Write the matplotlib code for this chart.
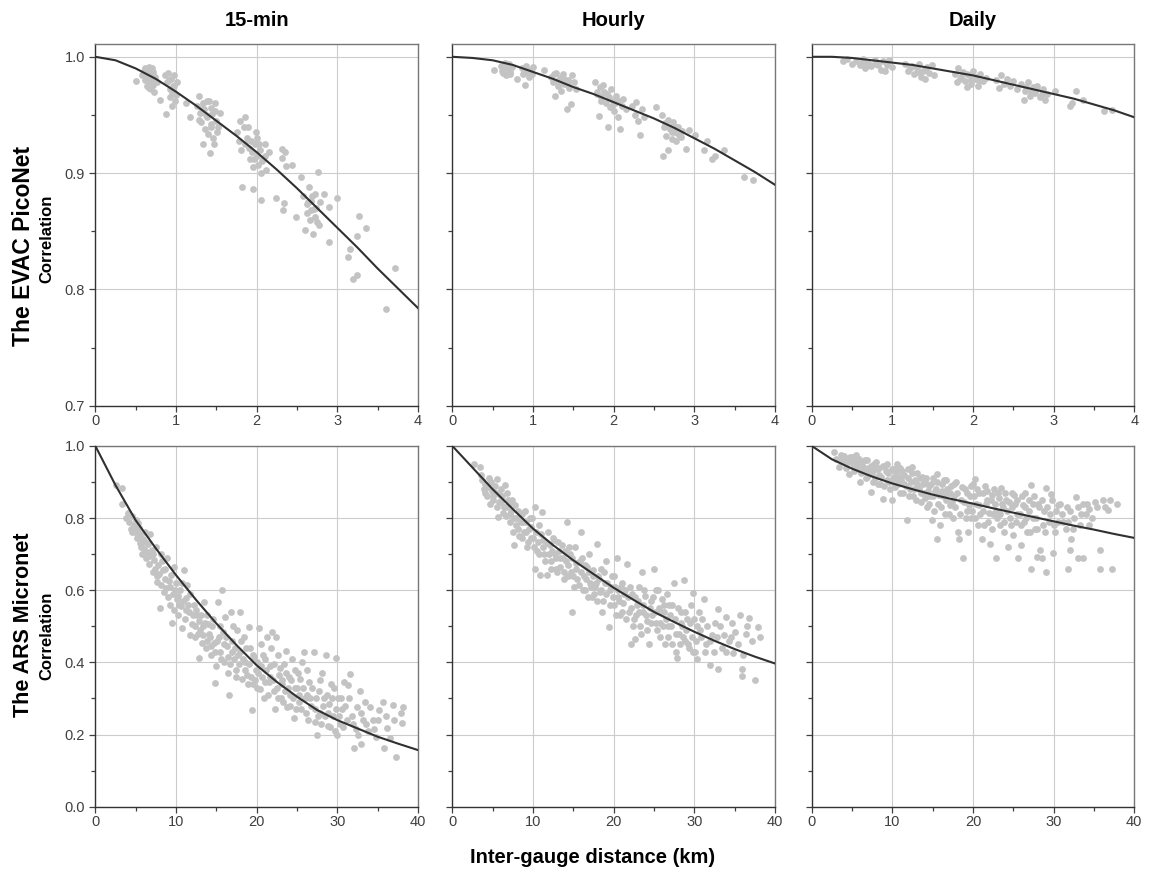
import numpy as np
import matplotlib
matplotlib.use('Agg')
import matplotlib.pyplot as plt
from matplotlib.ticker import MultipleLocator

plt.rcParams['font.family'] = ['Liberation Sans', 'DejaVu Sans']

col_titles = ['15-min', 'Hourly', 'Daily']
row_titles = ['The EVAC PicoNet', 'The ARS Micronet']

# ---- EVAC PicoNet (distance in km, correlation) ----
evac_15min = [
    (0.51, 0.979), (0.58, 0.984), (0.60, 0.988), (0.62, 0.990), (0.63, 0.982), (0.64, 0.975),
    (0.65, 0.986), (0.66, 0.991), (0.67, 0.979), (0.68, 0.984), (0.69, 0.972), (0.70, 0.981),
    (0.71, 0.987), (0.72, 0.976), (0.74, 0.983), (0.76, 0.978), (0.80, 0.963),
    (0.86, 0.984), (0.88, 0.951), (0.89, 0.978), (0.90, 0.986), (0.92, 0.972), (0.93, 0.965),
    (0.94, 0.981), (0.95, 0.958), (0.96, 0.975), (0.97, 0.969), (0.98, 0.984), (0.99, 0.962),
    (1.01, 0.978), (1.13, 0.960), (1.18, 0.948), (1.26, 0.958), (1.28, 0.966), (1.30, 0.952),
    (1.31, 0.944), (1.33, 0.960), (1.34, 0.925), (1.35, 0.955), (1.36, 0.938), (1.38, 0.962),
    (1.39, 0.948), (1.40, 0.934), (1.42, 0.917), (1.43, 0.956), (1.44, 0.942), (1.45, 0.951),
    (1.46, 0.930), (1.47, 0.925), (1.48, 0.960), (1.50, 0.945), (1.52, 0.940), (1.54, 0.952),
    (1.76, 0.935), (1.78, 0.928), (1.80, 0.945), (1.82, 0.888), (1.84, 0.940), (1.86, 0.948),
    (1.88, 0.930), (1.90, 0.922), (1.92, 0.912), (1.94, 0.918), (1.95, 0.886), (1.96, 0.905),
    (1.98, 0.925), (2.00, 0.915), (2.01, 0.930), (2.02, 0.907), (2.04, 0.920), (2.05, 0.877),
    (2.06, 0.900), (2.08, 0.912), (2.10, 0.925), (2.12, 0.903), (2.15, 0.918),
    (2.24, 0.879), (2.31, 0.921), (2.32, 0.913), (2.33, 0.868), (2.34, 0.874), (2.35, 0.918),
    (2.37, 0.906), (2.44, 0.907), (2.49, 0.862),
    (2.55, 0.897), (2.58, 0.880), (2.60, 0.851), (2.62, 0.873), (2.63, 0.866), (2.65, 0.888),
    (2.66, 0.860), (2.68, 0.876), (2.70, 0.848), (2.71, 0.869), (2.73, 0.882), (2.75, 0.858),
    (2.76, 0.901), (2.78, 0.875), (2.84, 0.882), (2.90, 0.871), (2.90, 0.841), (3.00, 0.879),
    (3.13, 0.828), (3.16, 0.835), (3.19, 0.809), (3.25, 0.812), (3.25, 0.846), (3.27, 0.863),
    (3.36, 0.853), (3.60, 0.783), (3.71, 0.818),
    (0.61, 0.980), (0.64, 0.988), (0.67, 0.973), (0.70, 0.990), (0.73, 0.970), (0.91, 0.980),
    (0.95, 0.970), (0.98, 0.975), (1.00, 0.967), (1.29, 0.946), (1.32, 0.955), (1.37, 0.950),
    (1.41, 0.962), (1.43, 0.940), (1.49, 0.953), (1.51, 0.935), (1.81, 0.920), (1.85, 0.925),
    (1.89, 0.940), (1.93, 0.928), (1.97, 0.912), (1.99, 0.935), (2.03, 0.925), (2.07, 0.910),
    (2.11, 0.915), (2.64, 0.875), (2.67, 0.868), (2.69, 0.880), (2.72, 0.862), (2.74, 0.870),
    (2.77, 0.855),
]
evac_hourly = [
    (0.52, 0.989), (0.61, 0.992), (0.63, 0.986), (0.65, 0.995), (0.66, 0.984), (0.68, 0.990),
    (0.70, 0.994), (0.72, 0.987), (0.74, 0.991), (0.80, 0.981),
    (0.86, 0.990), (0.88, 0.985), (0.90, 0.976), (0.91, 0.992), (0.93, 0.987), (0.95, 0.983),
    (0.97, 0.989), (0.99, 0.985), (1.00, 0.991), (1.14, 0.989),
    (1.23, 0.983), (1.25, 0.978), (1.27, 0.966), (1.29, 0.986), (1.31, 0.975), (1.33, 0.982),
    (1.35, 0.971), (1.37, 0.985), (1.39, 0.977), (1.42, 0.955), (1.43, 0.980), (1.45, 0.973),
    (1.47, 0.959), (1.49, 0.984), (1.51, 0.978), (1.53, 0.972),
    (1.77, 0.978), (1.79, 0.970), (1.82, 0.949), (1.83, 0.974), (1.85, 0.965), (1.87, 0.976),
    (1.90, 0.960), (1.92, 0.968), (1.93, 0.940), (1.95, 0.957), (1.97, 0.972), (1.99, 0.962),
    (2.01, 0.953), (2.03, 0.966), (2.06, 0.948), (2.08, 0.938), (2.10, 0.958), (2.12, 0.964),
    (2.15, 0.955),
    (2.23, 0.958), (2.26, 0.950), (2.28, 0.961), (2.30, 0.945), (2.33, 0.933), (2.35, 0.955),
    (2.38, 0.948), (2.52, 0.957),
    (2.60, 0.950), (2.61, 0.915), (2.63, 0.940), (2.65, 0.932), (2.67, 0.946), (2.68, 0.920),
    (2.70, 0.938), (2.72, 0.929), (2.74, 0.944), (2.76, 0.935), (2.78, 0.928), (2.80, 0.940),
    (2.83, 0.931), (2.85, 0.936), (2.90, 0.921), (2.93, 0.937), (3.01, 0.933),
    (3.12, 0.920), (3.16, 0.928), (3.22, 0.912), (3.26, 0.915), (3.37, 0.920), (3.62, 0.897),
    (3.73, 0.894),
    (0.62, 0.988), (0.67, 0.992), (0.71, 0.985), (0.92, 0.988), (0.96, 0.985), (1.26, 0.985),
    (1.30, 0.979), (1.34, 0.977), (1.38, 0.981), (1.44, 0.976), (1.80, 0.968), (1.84, 0.962),
    (1.88, 0.970), (1.94, 0.965), (1.98, 0.958), (2.02, 0.960), (2.07, 0.962), (2.64, 0.943),
    (2.69, 0.940), (2.73, 0.935), (2.77, 0.940), (2.81, 0.933),
]
evac_daily = [
    (0.39, 0.996), (0.44, 0.998), (0.50, 0.994), (0.55, 0.996), (0.60, 0.993), (0.64, 0.998),
    (0.66, 0.990), (0.70, 0.995), (0.74, 0.992), (0.78, 0.997), (0.82, 0.993), (0.86, 0.989),
    (0.88, 0.996), (0.91, 0.988), (0.93, 0.993), (0.96, 0.997), (0.99, 0.991),
    (1.16, 0.994), (1.20, 0.988), (1.24, 0.992), (1.27, 0.985), (1.30, 0.990), (1.33, 0.994),
    (1.36, 0.983), (1.38, 0.988), (1.41, 0.981), (1.43, 0.991), (1.46, 0.986), (1.49, 0.993),
    (1.52, 0.984),
    (1.78, 0.985), (1.80, 0.978), (1.82, 0.990), (1.85, 0.983), (1.88, 0.987), (1.90, 0.979),
    (1.93, 0.974), (1.95, 0.984), (1.98, 0.977), (2.00, 0.988), (2.03, 0.981), (2.06, 0.975),
    (2.09, 0.985), (2.12, 0.979), (2.16, 0.982),
    (2.29, 0.980), (2.32, 0.973), (2.35, 0.984), (2.38, 0.977), (2.42, 0.981), (2.46, 0.975),
    (2.50, 0.979), (2.54, 0.972),
    (2.60, 0.977), (2.63, 0.963), (2.65, 0.971), (2.68, 0.978), (2.71, 0.966), (2.74, 0.974),
    (2.77, 0.969), (2.80, 0.975), (2.83, 0.965), (2.87, 0.972), (2.89, 0.963), (2.92, 0.968),
    (3.02, 0.971), (3.20, 0.958), (3.23, 0.960), (3.28, 0.971), (3.37, 0.963), (3.62, 0.953),
    (3.72, 0.954),
    (0.62, 0.995), (0.72, 0.993), (0.80, 0.994), (1.22, 0.990), (1.32, 0.987), (1.40, 0.989),
    (1.84, 0.981), (1.92, 0.985), (1.97, 0.980), (2.04, 0.983), (2.08, 0.979), (2.66, 0.974),
    (2.72, 0.970), (2.78, 0.972), (2.85, 0.968),
]

# ---- ARS Micronet ----
ars_15min = [
    (2.6, 0.891), (3.3, 0.882), (3.3, 0.840), (3.8, 0.800), (4.0, 0.815), (4.2, 0.790),
    (4.4, 0.770), (4.6, 0.805), (4.8, 0.782), (4.9, 0.760), (5.1, 0.795), (5.2, 0.745),
    (5.4, 0.772), (5.5, 0.730), (5.6, 0.755), (5.8, 0.700), (5.9, 0.742), (6.0, 0.715),
    (6.2, 0.760), (6.3, 0.690), (6.5, 0.728), (6.6, 0.672), (6.8, 0.757), (6.9, 0.705),
    (7.0, 0.711), (7.1, 0.650), (7.3, 0.685), (7.5, 0.720), (7.6, 0.640), (7.7, 0.623),
    (7.8, 0.670), (8.0, 0.550), (8.1, 0.700), (8.2, 0.615),
    (8.4, 0.655), (8.5, 0.595), (8.7, 0.630), (8.9, 0.688), (9.0, 0.580), (9.2, 0.610),
    (9.3, 0.560), (9.4, 0.642), (9.5, 0.508), (9.6, 0.590), (9.7, 0.665), (9.8, 0.545),
    (10.0, 0.620), (10.1, 0.575), (10.3, 0.530), (10.5, 0.600), (10.6, 0.555), (10.8, 0.494),
    (11.0, 0.656), (11.1, 0.520), (11.3, 0.578), (11.4, 0.614), (11.6, 0.540), (11.8, 0.476),
    (12.0, 0.505), (12.2, 0.560), (12.4, 0.470), (12.6, 0.530), (12.8, 0.411), (13.0, 0.490),
    (13.2, 0.455), (13.5, 0.568), (13.6, 0.510), (13.7, 0.440), (13.9, 0.531), (14.1, 0.480),
    (14.3, 0.420), (14.5, 0.500), (14.7, 0.455), (14.9, 0.342), (15.0, 0.390), (15.2, 0.568),
    (15.3, 0.470), (15.5, 0.430), (15.7, 0.600), (15.8, 0.485), (16.0, 0.400), (16.1, 0.526),
    (16.3, 0.445), (16.5, 0.370), (16.6, 0.309), (16.8, 0.540), (17.0, 0.460), (17.2, 0.410),
    (17.4, 0.380), (17.6, 0.490), (17.9, 0.540), (18.0, 0.430), (18.2, 0.355), (18.4, 0.470),
    (18.6, 0.400), (18.8, 0.365), (19.0, 0.499), (19.2, 0.440), (19.4, 0.268), (19.5, 0.340),
    (19.7, 0.415), (19.9, 0.380), (20.1, 0.330), (20.3, 0.496),
    (20.5, 0.450), (20.7, 0.360), (20.9, 0.300), (21.1, 0.410), (21.3, 0.471), (21.5, 0.345),
    (21.7, 0.390), (21.9, 0.485), (22.1, 0.320), (22.3, 0.270), (22.4, 0.471), (22.6, 0.420),
    (22.8, 0.365), (23.0, 0.300), (23.2, 0.340), (23.4, 0.395), (23.6, 0.431), (23.8, 0.275),
    (24.0, 0.360), (24.2, 0.310), (24.4, 0.410), (24.6, 0.245), (24.8, 0.380), (25.0, 0.330),
    (25.2, 0.290), (25.4, 0.355), (25.6, 0.400), (25.9, 0.429), (26.1, 0.260), (26.3, 0.310),
    (26.5, 0.345), (26.8, 0.280), (27.1, 0.429), (27.3, 0.235), (27.5, 0.199), (27.7, 0.320),
    (27.9, 0.260), (28.1, 0.370), (28.4, 0.300), (28.6, 0.420), (28.8, 0.225), (29.0, 0.285),
    (29.2, 0.340), (29.5, 0.250), (29.7, 0.210), (29.9, 0.411), (30.1, 0.300), (30.3, 0.230),
    (30.6, 0.270), (30.8, 0.345), (31.3, 0.337), (31.6, 0.369), (31.8, 0.250), (32.1, 0.162),
    (32.3, 0.215), (32.5, 0.275), (32.8, 0.320), (32.9, 0.175), (33.2, 0.240), (33.5, 0.291),
    (33.8, 0.210), (34.4, 0.240), (34.8, 0.194), (35.2, 0.268), (35.7, 0.291), (35.8, 0.162),
    (36.2, 0.217), (36.9, 0.282), (37.3, 0.139), (37.9, 0.260), (38.0, 0.231),
    (4.5, 0.760), (5.0, 0.770), (5.3, 0.785), (5.7, 0.720), (6.1, 0.735), (6.4, 0.705),
    (6.7, 0.695), (7.2, 0.700), (7.4, 0.660), (7.9, 0.645), (8.3, 0.680), (8.6, 0.660),
    (8.8, 0.605), (9.1, 0.625), (9.9, 0.600), (10.2, 0.585), (10.4, 0.560), (10.7, 0.620),
    (10.9, 0.570), (11.2, 0.545), (11.5, 0.560), (11.7, 0.590), (12.1, 0.530), (12.3, 0.500),
    (12.5, 0.545), (12.7, 0.480), (12.9, 0.515), (13.1, 0.530), (13.3, 0.475), (13.4, 0.500),
    (13.8, 0.460), (14.0, 0.505), (14.2, 0.470), (14.4, 0.445), (14.6, 0.520), (14.8, 0.430),
    (15.1, 0.460), (15.4, 0.500), (15.6, 0.410), (15.9, 0.450), (16.2, 0.470), (16.4, 0.415),
    (16.7, 0.395), (16.9, 0.430), (17.1, 0.500), (17.3, 0.440), (17.5, 0.360), (17.7, 0.420),
    (17.8, 0.395), (18.1, 0.460), (18.3, 0.410), (18.5, 0.380), (18.7, 0.440), (18.9, 0.340),
    (19.1, 0.395), (19.3, 0.360), (19.6, 0.420), (19.8, 0.350), (20.0, 0.400), (20.2, 0.370),
    (20.4, 0.325), (20.6, 0.390), (20.8, 0.420), (21.0, 0.345), (21.2, 0.380), (21.4, 0.310),
    (21.6, 0.360), (21.8, 0.440), (22.0, 0.350), (22.2, 0.395), (22.5, 0.330), (22.7, 0.300),
    (22.9, 0.385), (23.1, 0.350), (23.3, 0.290), (23.5, 0.320), (23.7, 0.370), (23.9, 0.330),
    (24.1, 0.280), (24.3, 0.350), (24.5, 0.300), (24.7, 0.330), (24.9, 0.270), (25.1, 0.370),
    (25.3, 0.310), (25.5, 0.270), (25.8, 0.330), (26.0, 0.300), (26.2, 0.380), (26.4, 0.240),
    (26.6, 0.300), (26.9, 0.330), (27.2, 0.270), (27.4, 0.300), (27.6, 0.250), (27.8, 0.350),
    (28.0, 0.230), (28.2, 0.280), (28.5, 0.250), (28.7, 0.310), (28.9, 0.260), (29.1, 0.220),
    (29.3, 0.300), (29.6, 0.330), (29.8, 0.270), (30.0, 0.200), (30.2, 0.250), (30.5, 0.300),
    (30.7, 0.220), (31.0, 0.280), (31.2, 0.240), (31.5, 0.300), (32.0, 0.230), (32.6, 0.200),
    (33.0, 0.260), (33.6, 0.230), (34.0, 0.275), (34.6, 0.215), (35.0, 0.240), (36.0, 0.250),
    (36.5, 0.190), (37.0, 0.240), (38.2, 0.275),
]
ars_hourly = [
    (2.7, 0.951), (3.4, 0.942), (3.7, 0.905), (3.9, 0.880), (4.1, 0.895), (4.3, 0.860),
    (4.5, 0.910), (4.7, 0.840), (4.9, 0.875), (5.1, 0.850), (5.3, 0.890), (5.5, 0.909),
    (5.6, 0.830), (5.7, 0.803), (5.9, 0.865),
    (6.1, 0.845), (6.3, 0.815), (6.5, 0.891), (6.7, 0.830), (6.9, 0.850), (7.1, 0.790),
    (7.3, 0.820), (7.5, 0.760), (7.6, 0.725), (7.8, 0.835), (8.0, 0.800), (8.2, 0.770),
    (8.4, 0.815), (8.6, 0.745), (8.8, 0.790), (9.0, 0.820), (9.2, 0.760), (9.4, 0.735),
    (9.6, 0.800), (9.8, 0.775), (10.0, 0.745),
    (10.2, 0.660), (10.3, 0.831), (10.5, 0.710), (10.7, 0.780), (10.9, 0.642), (11.1, 0.817),
    (11.2, 0.740), (11.4, 0.700), (11.7, 0.642), (11.9, 0.760), (12.1, 0.725), (12.3, 0.680),
    (12.5, 0.745), (12.7, 0.700), (12.9, 0.660), (13.1, 0.735), (13.3, 0.690), (13.6, 0.725),
    (13.8, 0.650), (14.0, 0.710), (14.2, 0.789),
    (14.4, 0.670), (14.6, 0.700), (14.8, 0.540), (15.0, 0.640), (15.2, 0.720), (15.4, 0.675),
    (15.7, 0.615), (15.9, 0.762), (16.1, 0.690), (16.3, 0.640), (16.5, 0.600), (16.7, 0.665),
    (16.9, 0.700), (17.1, 0.620), (17.3, 0.580), (17.5, 0.655), (17.7, 0.610), (17.9, 0.729),
    (18.1, 0.640), (18.3, 0.595), (18.5, 0.660), (18.7, 0.570), (18.9, 0.620), (19.1, 0.680),
    (19.4, 0.499), (19.6, 0.600), (19.8, 0.640), (20.0, 0.560), (20.2, 0.610), (20.4, 0.688),
    (20.6, 0.580), (20.8, 0.530), (21.0, 0.620), (21.2, 0.565), (21.4, 0.600), (21.7, 0.674),
    (21.9, 0.540), (22.1, 0.452),
    (22.3, 0.590), (22.5, 0.520), (22.7, 0.466), (22.9, 0.560), (23.1, 0.610), (23.3, 0.500),
    (23.5, 0.651), (23.7, 0.540), (23.9, 0.585), (24.1, 0.515), (24.4, 0.452), (24.6, 0.570),
    (24.8, 0.530), (25.0, 0.660), (25.2, 0.600), (25.4, 0.490), (25.6, 0.550), (25.8, 0.510),
    (26.0, 0.575),
    (26.2, 0.540), (26.4, 0.452), (26.6, 0.590), (26.8, 0.500), (27.0, 0.530), (27.2, 0.560),
    (27.5, 0.619), (27.7, 0.430), (27.9, 0.411), (28.1, 0.480), (28.3, 0.540), (28.5, 0.500),
    (28.7, 0.628), (28.9, 0.460), (29.1, 0.520), (29.3, 0.440), (29.6, 0.560), (29.9, 0.591),
    (29.9, 0.430),
    (30.1, 0.430), (30.3, 0.500), (30.6, 0.540), (30.9, 0.470), (31.2, 0.577), (31.5, 0.450),
    (32.0, 0.392), (32.2, 0.476), (32.6, 0.510), (33.0, 0.549), (33.0, 0.383), (33.4, 0.440),
    (33.7, 0.476), (33.9, 0.526), (34.3, 0.460), (34.7, 0.508), (34.8, 0.425), (35.1, 0.485),
    (35.7, 0.531), (35.9, 0.383), (35.9, 0.363), (36.4, 0.480), (36.8, 0.522), (37.5, 0.351),
    (37.9, 0.499), (38.1, 0.471),
    (3.5, 0.920), (4.0, 0.870), (4.4, 0.885), (4.8, 0.900), (5.0, 0.860), (5.4, 0.870),
    (5.8, 0.845), (6.0, 0.880), (6.2, 0.860), (6.4, 0.830), (6.6, 0.805), (6.8, 0.870),
    (7.0, 0.840), (7.2, 0.810), (7.4, 0.850), (7.7, 0.800), (7.9, 0.780), (8.1, 0.820),
    (8.3, 0.750), (8.5, 0.790), (8.7, 0.810), (8.9, 0.760), (9.1, 0.790), (9.3, 0.720),
    (9.5, 0.770), (9.7, 0.745), (9.9, 0.800), (10.1, 0.720), (10.4, 0.760), (10.6, 0.735),
    (10.8, 0.700), (11.0, 0.755), (11.3, 0.720), (11.5, 0.680), (11.8, 0.730), (12.0, 0.700),
    (12.2, 0.660), (12.4, 0.710), (12.6, 0.740), (12.8, 0.690), (13.0, 0.650), (13.2, 0.710),
    (13.4, 0.665), (13.7, 0.690), (13.9, 0.630), (14.1, 0.680), (14.3, 0.640), (14.5, 0.720),
    (14.7, 0.650), (14.9, 0.690), (15.1, 0.610), (15.3, 0.660), (15.5, 0.630), (15.8, 0.680),
    (16.0, 0.650), (16.2, 0.600), (16.4, 0.670), (16.6, 0.630), (16.8, 0.580), (17.0, 0.650),
    (17.2, 0.610), (17.4, 0.640), (17.6, 0.590), (17.8, 0.620), (18.0, 0.570), (18.2, 0.630),
    (18.4, 0.600), (18.6, 0.540), (18.8, 0.650), (19.0, 0.590), (19.2, 0.620), (19.5, 0.560),
    (19.7, 0.610), (19.9, 0.580), (20.1, 0.640), (20.3, 0.530), (20.5, 0.600), (20.7, 0.570),
    (20.9, 0.610), (21.1, 0.540), (21.3, 0.590), (21.6, 0.520), (21.8, 0.580), (22.0, 0.610),
    (22.2, 0.550), (22.4, 0.500), (22.6, 0.580), (22.8, 0.530), (23.0, 0.570), (23.2, 0.540),
    (23.4, 0.480), (23.6, 0.560), (23.8, 0.600), (24.0, 0.530), (24.2, 0.490), (24.5, 0.550),
    (24.7, 0.510), (24.9, 0.580), (25.1, 0.540), (25.3, 0.510), (25.5, 0.600), (25.7, 0.470),
    (25.9, 0.540), (26.1, 0.500), (26.3, 0.560), (26.5, 0.520), (26.7, 0.470), (26.9, 0.560),
    (27.1, 0.500), (27.3, 0.450), (27.6, 0.520), (27.8, 0.480), (28.0, 0.550), (28.2, 0.450),
    (28.4, 0.510), (28.6, 0.470), (28.8, 0.540), (29.0, 0.490), (29.2, 0.450), (29.5, 0.510),
    (29.7, 0.470), (30.0, 0.520), (30.2, 0.460), (30.4, 0.410), (30.7, 0.490), (31.0, 0.520),
    (31.3, 0.430), (31.6, 0.500), (31.9, 0.460), (32.4, 0.430), (32.8, 0.470), (33.2, 0.500),
    (34.0, 0.430), (34.5, 0.470), (35.4, 0.450), (36.1, 0.420), (36.6, 0.500), (37.2, 0.460),
]
ars_daily = [
    (2.8, 0.983), (3.4, 0.942), (3.8, 0.960), (4.0, 0.972), (4.2, 0.950), (4.4, 0.965),
    (4.6, 0.923), (4.8, 0.958), (5.0, 0.970), (5.2, 0.945), (5.4, 0.962), (5.6, 0.935),
    (5.8, 0.955), (6.0, 0.900),
    (6.2, 0.948), (6.4, 0.930), (6.6, 0.960), (6.8, 0.915), (7.0, 0.940), (7.3, 0.873),
    (7.5, 0.925), (7.7, 0.950), (7.9, 0.910), (8.1, 0.935), (8.3, 0.920), (8.5, 0.895),
    (8.9, 0.854), (9.1, 0.945), (9.3, 0.905), (9.5, 0.925), (9.7, 0.880), (10.0, 0.849),
    (10.2, 0.935), (10.4, 0.900), (10.6, 0.950), (10.8, 0.915), (11.0, 0.870), (11.2, 0.930),
    (11.4, 0.895), (11.8, 0.794), (12.0, 0.910), (12.2, 0.880), (12.4, 0.942), (12.6, 0.860),
    (12.8, 0.905), (13.0, 0.925), (13.3, 0.880), (13.5, 0.845), (13.7, 0.915), (13.9, 0.870),
    (14.1, 0.900), (14.3, 0.830), (14.5, 0.890), (14.7, 0.860), (14.9, 0.794), (15.1, 0.910),
    (15.3, 0.875), (15.5, 0.923), (15.5, 0.741), (15.7, 0.840), (15.9, 0.780), (16.1, 0.895),
    (16.3, 0.860), (16.5, 0.810), (16.7, 0.905), (16.9, 0.870), (17.1, 0.835), (17.3, 0.890),
    (17.5, 0.800), (17.7, 0.860), (17.9, 0.900),
    (18.2, 0.762), (18.3, 0.741), (18.5, 0.850), (18.8, 0.690), (19.0, 0.880), (19.2, 0.820),
    (19.4, 0.762), (19.6, 0.860), (19.8, 0.800), (20.0, 0.895), (20.2, 0.909), (20.4, 0.840),
    (20.6, 0.780), (20.8, 0.870), (21.1, 0.743), (21.3, 0.820), (21.5, 0.890), (21.7, 0.850),
    (21.9, 0.790),
    (22.1, 0.729), (22.3, 0.865), (22.5, 0.810), (22.7, 0.840), (22.9, 0.690), (23.1, 0.870),
    (23.3, 0.780), (23.5, 0.882), (23.7, 0.830), (23.9, 0.760), (24.1, 0.850), (24.4, 0.720),
    (24.6, 0.800), (24.8, 0.870), (25.0, 0.753), (25.2, 0.840), (25.4, 0.810), (25.6, 0.690),
    (25.9, 0.725),
    (26.1, 0.860), (26.3, 0.790), (26.5, 0.830), (26.7, 0.760), (27.0, 0.850), (27.2, 0.891),
    (27.2, 0.660), (27.5, 0.800), (27.7, 0.770), (27.9, 0.693), (28.1, 0.840), (28.3, 0.711),
    (28.6, 0.688), (28.8, 0.820), (29.1, 0.882), (29.1, 0.651), (29.4, 0.790), (29.7, 0.868),
    (29.9, 0.702),
    (30.2, 0.760), (30.5, 0.836), (30.5, 0.789), (31.0, 0.810), (31.5, 0.770), (31.8, 0.789),
    (31.8, 0.660), (32.0, 0.711), (32.2, 0.743), (32.5, 0.800), (32.8, 0.859), (33.0, 0.690),
    (33.3, 0.780), (33.6, 0.690), (33.6, 0.840), (34.0, 0.810), (34.4, 0.780), (34.4, 0.826),
    (35.1, 0.845), (35.7, 0.711), (35.7, 0.660), (36.1, 0.849), (36.7, 0.822), (37.3, 0.660),
    (37.9, 0.840),
    (3.0, 0.965), (3.6, 0.975), (4.1, 0.955), (4.3, 0.940), (4.7, 0.970), (5.1, 0.950),
    (5.3, 0.930), (5.5, 0.975), (5.7, 0.945), (5.9, 0.965), (6.1, 0.925), (6.3, 0.955),
    (6.5, 0.940), (6.7, 0.910), (6.9, 0.960), (7.1, 0.930), (7.4, 0.945), (7.6, 0.900),
    (7.8, 0.935), (8.0, 0.955), (8.2, 0.895), (8.4, 0.940), (8.6, 0.915), (8.8, 0.945),
    (9.0, 0.890), (9.2, 0.930), (9.4, 0.950), (9.6, 0.900), (9.9, 0.935), (10.1, 0.910),
    (10.3, 0.885), (10.5, 0.925), (10.7, 0.895), (10.9, 0.940), (11.1, 0.905), (11.3, 0.870),
    (11.5, 0.920), (11.7, 0.890), (11.9, 0.935), (12.1, 0.860), (12.3, 0.900), (12.5, 0.925),
    (12.7, 0.880), (12.9, 0.850), (13.1, 0.895), (13.4, 0.910), (13.6, 0.870), (13.8, 0.895),
    (14.0, 0.855), (14.2, 0.910), (14.4, 0.875), (14.6, 0.840), (14.8, 0.895), (15.0, 0.860),
    (15.2, 0.820), (15.4, 0.880), (15.6, 0.900), (15.8, 0.865), (16.0, 0.830), (16.2, 0.875),
    (16.4, 0.905), (16.6, 0.850), (16.8, 0.880), (17.0, 0.810), (17.2, 0.870), (17.4, 0.845),
    (17.6, 0.895), (17.8, 0.830), (18.0, 0.870), (18.4, 0.810), (18.6, 0.885), (18.9, 0.845),
    (19.1, 0.800), (19.3, 0.870), (19.5, 0.835), (19.7, 0.890), (19.9, 0.820), (20.1, 0.860),
    (20.3, 0.800), (20.5, 0.880), (20.7, 0.835), (20.9, 0.810), (21.2, 0.870), (21.4, 0.780),
    (21.6, 0.840), (21.8, 0.875), (22.0, 0.815), (22.2, 0.850), (22.4, 0.770), (22.6, 0.880),
    (22.8, 0.820), (23.0, 0.800), (23.2, 0.855), (23.4, 0.810), (23.6, 0.840), (23.8, 0.790),
    (24.0, 0.870), (24.2, 0.820), (24.5, 0.845), (24.7, 0.780), (24.9, 0.830), (25.1, 0.865),
    (25.3, 0.790), (25.5, 0.850), (25.8, 0.810), (26.0, 0.780), (26.2, 0.835), (26.4, 0.870),
    (26.6, 0.800), (26.9, 0.820), (27.1, 0.760), (27.4, 0.840), (27.6, 0.860), (27.8, 0.800),
    (28.0, 0.770), (28.2, 0.830), (28.5, 0.850), (28.7, 0.780), (28.9, 0.760), (29.2, 0.830),
    (29.5, 0.810), (29.8, 0.850), (30.0, 0.780), (30.3, 0.820), (30.8, 0.840), (31.2, 0.790),
    (31.6, 0.830), (32.0, 0.820), (32.4, 0.770), (33.0, 0.830), (33.4, 0.810), (34.2, 0.840),
    (34.8, 0.800), (35.4, 0.830), (36.4, 0.830), (37.0, 0.850),
]

# fitted curves
fit_x_evac = [0, 0.25, 0.5, 0.75, 1, 1.25, 1.5, 1.75, 2, 2.25, 2.5, 2.75, 3, 3.25, 3.5, 3.75, 4]
fit_evac_15min = [1.000, 0.997, 0.990, 0.981, 0.970, 0.958, 0.945, 0.932, 0.918, 0.903,
                  0.887, 0.870, 0.853, 0.836, 0.818, 0.801, 0.784]
fit_evac_hourly = [1.000, 0.999, 0.997, 0.993, 0.987, 0.981, 0.974, 0.968, 0.961, 0.954,
                   0.947, 0.939, 0.930, 0.921, 0.911, 0.901, 0.890]
fit_evac_daily = [1.000, 1.000, 0.999, 0.997, 0.995, 0.993, 0.990, 0.987, 0.984, 0.980,
                  0.976, 0.972, 0.968, 0.964, 0.959, 0.954, 0.948]

fit_x_ars = [0, 2.5, 5, 7.5, 10, 12.5, 15, 17.5, 20, 22.5, 25, 27.5, 30, 32.5, 35, 37.5, 40]
fit_ars_15min = [1.000, 0.891, 0.794, 0.716, 0.642, 0.573, 0.508, 0.448, 0.392, 0.346,
                 0.305, 0.268, 0.240, 0.217, 0.194, 0.175, 0.157]
fit_ars_hourly = [1.000, 0.940, 0.880, 0.825, 0.771, 0.725, 0.683, 0.645, 0.607, 0.573,
                  0.540, 0.512, 0.485, 0.460, 0.437, 0.416, 0.397]
fit_ars_daily = [1.000, 0.963, 0.937, 0.915, 0.896, 0.880, 0.865, 0.852, 0.840, 0.827,
                 0.815, 0.803, 0.791, 0.779, 0.768, 0.756, 0.745]

rows = [
    dict(pts=[evac_15min, evac_hourly, evac_daily], fx=fit_x_evac,
         fits=[fit_evac_15min, fit_evac_hourly, fit_evac_daily],
         xlim=(0, 4), ylim=(0.7, 1.011), xmaj=1, xmin=0.5, ymaj=0.1, ymin=0.05,
         bottom=0.539, height=0.411),
    dict(pts=[ars_15min, ars_hourly, ars_daily], fx=fit_x_ars,
         fits=[fit_ars_15min, fit_ars_hourly, fit_ars_daily],
         xlim=(0, 40), ylim=(0.0, 1.0), xmaj=10, xmin=5, ymaj=0.2, ymin=0.1,
         bottom=0.0833, height=0.41),
]
col_left = [0.0829, 0.3933, 0.7058]
col_width = 0.2805

fig = plt.figure(figsize=(11.5, 8.8), dpi=100)

for r, row in enumerate(rows):
    for c in range(3):
        ax = fig.add_axes([col_left[c], row['bottom'], col_width, row['height']])
        p = np.array(row['pts'][c])
        ax.scatter(p[:, 0], p[:, 1], s=24, color='#c3c3c3', linewidths=0, zorder=2)
        ax.plot(row['fx'], row['fits'][c], color='#303030', lw=1.5, zorder=3)
        ax.set_xlim(row['xlim'])
        ax.set_ylim(row['ylim'])
        ax.xaxis.set_major_locator(MultipleLocator(row['xmaj']))
        ax.xaxis.set_minor_locator(MultipleLocator(row['xmin']))
        ax.yaxis.set_major_locator(MultipleLocator(row['ymaj']))
        ax.yaxis.set_minor_locator(MultipleLocator(row['ymin']))
        ax.yaxis.set_major_formatter(plt.FuncFormatter(lambda v, _: f'{v:.1f}'))
        ax.grid(True, which='major', color='#cccccc', lw=0.8, zorder=0)
        ax.set_axisbelow(True)
        ax.tick_params(which='both', direction='out', colors='#404040', labelsize=10.5)
        ax.tick_params(which='major', length=4, width=0.9)
        ax.tick_params(which='minor', length=3, width=0.9)
        ax.tick_params(axis='x', pad=2)
        if c > 0:
            ax.tick_params(axis='y', labelleft=False)
        for side in ['left', 'bottom']:
            ax.spines[side].set_color('#333333')
            ax.spines[side].set_linewidth(1.0)
        for side in ['top', 'right']:
            ax.spines[side].set_color('#777777')
            ax.spines[side].set_linewidth(1.0)

# column titles
for c in range(3):
    fig.text(col_left[c] + col_width / 2, 0.977, col_titles[c], ha='center', va='center',
             fontsize=14.5, fontweight='bold')

# row labels
fig.text(0.0205, 0.72, row_titles[0], rotation=90, ha='center', va='center',
         fontsize=16.5, fontweight='bold')
fig.text(0.041, 0.729, 'Correlation', rotation=90, ha='center', va='center',
         fontsize=12, fontweight='bold')
fig.text(0.0205, 0.29, row_titles[1], rotation=90, ha='center', va='center',
         fontsize=15.5, fontweight='bold')
fig.text(0.041, 0.278, 'Correlation', rotation=90, ha='center', va='center',
         fontsize=12, fontweight='bold')

fig.text(0.515, 0.026, 'Inter-gauge distance (km)', ha='center', va='center',
         fontsize=14.5, fontweight='bold')

fig.savefig('out.png', dpi=100)
